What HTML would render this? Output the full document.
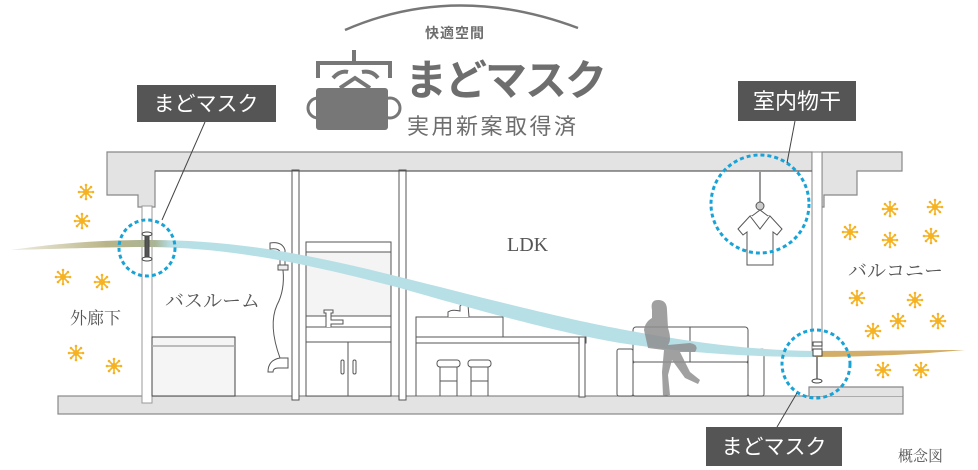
<!DOCTYPE html>
<html><head><meta charset="utf-8"><style>
html,body{margin:0;padding:0;background:#fff;}
svg{display:block;}
.t{font-family:"Liberation Serif","Noto Serif CJK SC",serif;fill:#555;}
.w{font-family:"Liberation Sans","Noto Sans CJK JP",sans-serif;fill:#fff;}
.g{font-family:"Liberation Sans","Noto Sans CJK JP",sans-serif;fill:#6e6e6e;}
</style></head><body>
<svg width="978" height="470" viewBox="0 0 978 470" xmlns="http://www.w3.org/2000/svg">
<defs>
<linearGradient id="flow" x1="10" y1="0" x2="815" y2="0" gradientUnits="userSpaceOnUse">
<stop offset="0" stop-color="#c6c29a" stop-opacity="0.3"/>
<stop offset="0.12" stop-color="#b9b488"/>
<stop offset="0.18" stop-color="#a9b496"/>
<stop offset="0.2" stop-color="#b7dfe6"/>
<stop offset="1" stop-color="#b7dfe6"/>
</linearGradient>
<g id="sp" stroke="#f5b324" stroke-width="1.6" fill="#f5b324">
<line x1="-7" y1="0" x2="7" y2="0"/><line x1="0" y1="-7" x2="0" y2="7"/>
<line x1="-5" y1="-5" x2="5" y2="5"/><line x1="-5" y1="5" x2="5" y2="-5"/>
<circle r="3" stroke="none"/>
<circle cx="7" cy="0" r="1.3" stroke="none"/><circle cx="-7" cy="0" r="1.3" stroke="none"/>
<circle cx="0" cy="7" r="1.3" stroke="none"/><circle cx="0" cy="-7" r="1.3" stroke="none"/>
<circle cx="5" cy="5" r="1.3" stroke="none"/><circle cx="-5" cy="-5" r="1.3" stroke="none"/>
<circle cx="5" cy="-5" r="1.3" stroke="none"/><circle cx="-5" cy="5" r="1.3" stroke="none"/>
</g>
</defs>

<!-- logo -->
<path d="M345,30 Q455,-18 578,28" fill="none" stroke="#777" stroke-width="2.5"/>
<text x="455" y="38" class="g" font-size="14" font-weight="bold" text-anchor="middle" letter-spacing="1">快適空間</text>
<g fill="none" stroke="#777" stroke-width="4">
<path d="M318,78 L318,63 L390,63 L390,78"/>
<line x1="354" y1="50" x2="354" y2="63"/>
<path d="M333,78 Q340,70 348,72"/><path d="M362,72 Q372,70 378,78"/>
<path d="M340,88 L355,78 L370,88"/>
<circle cx="318" cy="108" r="10" stroke-width="3"/>
<circle cx="390" cy="108" r="10" stroke-width="3"/>
</g>
<rect x="316" y="88" width="72" height="42" rx="3" fill="#777"/>
<text x="405" y="95" class="g" font-size="42" font-weight="bold" letter-spacing="-2">まどマスク</text>
<text x="407" y="134" class="g" font-size="22" letter-spacing="2.5">実用新案取得済</text>

<!-- structure -->
<g fill="#e3e3e3" stroke="#888" stroke-width="1.2">
<path d="M107,152 L812,152 L812,171 L155,171 L155,207 L138,207 L138,195 L107,195 Z"/>
<path d="M822,152 L902,152 L902,171 L857,171 L857,195 L824,195 L824,207 L822,207 Z"/>
<rect x="58" y="396" width="845" height="18"/>
<path d="M809,396 L809,387 L903,387 L903,396"/>
</g>
<rect x="142" y="206" width="10" height="197" fill="#fff" stroke="#999" stroke-width="1"/>
<rect x="812" y="152" width="10" height="201" fill="#fff" stroke="#888" stroke-width="1"/>
<line x1="817" y1="353" x2="817" y2="380" stroke="#666" stroke-width="1.5"/>
<g fill="none" stroke="#555" stroke-width="1">
<rect x="292" y="170" width="7" height="230" fill="#fff"/>
<rect x="399" y="170" width="7" height="230" fill="#fff"/>
<line x1="155" y1="171" x2="812" y2="171"/>
</g>

<!-- bath -->
<rect x="152" y="337" width="83" height="59" fill="#f5f5f5" stroke="#444" stroke-width="1"/>
<line x1="152" y1="346" x2="235" y2="346" stroke="#aaa" stroke-width="1.5"/>
<!-- shower -->
<g fill="#fff" stroke="#555" stroke-width="1">
<path d="M270,249 L270,243 Q282,241 285,250 L285,265 L280,265 L280,252 Q279,248 270,249 Z"/>
<rect x="278" y="265" width="10" height="5" fill="#eee"/>
<path d="M283,270 Q285,290 277,305 Q268,325 280,358" fill="none"/>
<path d="M268,372 Q268,360 280,358 L288,358 L288,368 L278,368 Q273,368 273,372 Z"/>
</g>
<!-- vanity -->
<g stroke="#555" stroke-width="1" fill="#fff">
<rect x="306" y="242" width="85" height="154"/>
<rect x="306" y="252" width="85" height="64" fill="#f4f4f4"/>
<line x1="306" y1="327" x2="391" y2="327"/>
<line x1="306" y1="342" x2="391" y2="342"/>
<line x1="348" y1="342" x2="348" y2="396"/>
<rect x="341" y="360" width="3" height="14" rx="1.5"/>
<rect x="353" y="360" width="3" height="14" rx="1.5"/>
<path d="M326,327 L326,313 L324,313 L324,310 L333,310 L333,313 L331,313 L331,320 L343,320 L343,324 L331,324 L331,327" />
</g>
<!-- kitchen -->
<g stroke="#555" stroke-width="1" fill="#fff">
<rect x="416" y="317" width="87" height="20"/>
<rect x="416" y="337" width="170" height="6"/>
<rect x="579" y="337" width="6" height="60"/>
<line x1="416" y1="343" x2="416" y2="396"/>
<path d="M448,317 L448,312 Q452,309 460,311 L460,306 Q463,303 468,305 L469,317" />
<rect x="437" y="360" width="23" height="7" rx="3"/>
<rect x="468" y="360" width="23" height="7" rx="3"/>
<path d="M440,367 L440,396 M457,367 L457,396 M440,381 L457,381"/>
<path d="M471,367 L471,396 M488,367 L488,396 M471,381 L488,381"/>
</g>
<!-- sofa -->
<g stroke="#555" stroke-width="1" fill="#fff">
<rect x="633" y="327" width="115" height="36" rx="3"/>
<line x1="690" y1="327" x2="690" y2="362"/>
<rect x="617" y="349" width="16" height="47" rx="2"/>
<rect x="748" y="349" width="16" height="47" rx="2"/>
<rect x="633" y="362" width="115" height="34" rx="2"/>
</g>

<!-- flow -->
<path d="M10,250 C60,243 100,240 150,240 C230,240 300,252 400,277 C480,297 560,318 620,329 C680,340 740,350 815,351 L815,357 C740,357 680,352 620,343 C560,333 480,311 400,288 C300,262 230,248 150,247 C100,247 60,249 10,250 Z" fill="url(#flow)"/>
<path d="M815,351 C870,351 920,350 965,350 C920,354 870,357 815,357 Z" fill="#d3ae68"/>

<!-- person -->
<g fill="#8f8f8f" opacity="0.85">
<path d="M652,310 Q650,300 658,300 Q667,300 667,310 L668,328 Q672,340 668,345 L690,343 Q700,345 695,352 L680,352 L690,372 L700,380 L698,384 L685,378 L672,360 L668,375 L670,395 L663,396 L662,372 L664,350 L648,348 L644,330 Q645,322 652,318 Z"/>
</g>

<!-- devices -->
<g fill="#fff" stroke="#444" stroke-width="1">
<ellipse cx="147" cy="234" rx="5" ry="2"/>
<rect x="145" y="236" width="4" height="22" fill="#555"/>
<ellipse cx="147" cy="259" rx="5" ry="2"/>
<rect x="813" y="342" width="9" height="4"/>
<rect x="813" y="349" width="9" height="7"/>
<ellipse cx="817" cy="381" rx="5" ry="2"/>
</g>
<!-- hanger -->
<g stroke="#555" stroke-width="1" fill="#fff">
<line x1="760" y1="171" x2="760" y2="203" stroke="#999" stroke-width="2"/>
<circle cx="760" cy="206" r="4" fill="#ccc"/>
<path d="M738,229 L750,216 L770,216 L782,229 L777,235 L773,232 L773,265 L747,265 L747,232 L743,235 Z"/>
<path d="M750,216 L760,229 L770,216 M752,216 L760,210 L768,216"/>
</g>

<!-- circles -->
<g fill="none" stroke="#17a3d8" stroke-width="3" stroke-dasharray="4,3">
<circle cx="147" cy="248" r="28"/>
<circle cx="760" cy="204" r="49"/>
<circle cx="816" cy="364" r="34"/>
</g>

<!-- sparkles -->
<use href="#sp" x="86" y="192"/><use href="#sp" x="82" y="221"/>
<use href="#sp" x="63" y="277"/><use href="#sp" x="102" y="282"/>
<use href="#sp" x="76" y="353"/><use href="#sp" x="114" y="366"/>
<use href="#sp" x="890" y="209"/><use href="#sp" x="935" y="207"/>
<use href="#sp" x="850" y="232"/><use href="#sp" x="890" y="240"/>
<use href="#sp" x="931" y="236"/><use href="#sp" x="857" y="298"/>
<use href="#sp" x="915" y="300"/><use href="#sp" x="898" y="321"/>
<use href="#sp" x="938" y="321"/><use href="#sp" x="873" y="331"/>
<use href="#sp" x="883" y="370"/><use href="#sp" x="921" y="370"/>

<!-- labels -->
<text x="70" y="324" class="t" font-size="17">外廊下</text>
<text x="165" y="307" class="t" font-size="19">バスルーム</text>
<text x="507" y="251" class="t" font-size="20">LDK</text>
<text x="848" y="277" class="t" font-size="19">バルコニー</text>
<text x="898" y="461" class="t" font-size="15">概念図</text>

<g stroke="#444" stroke-width="1">
<line x1="205" y1="122" x2="162" y2="220"/>
<line x1="795" y1="121" x2="787" y2="163"/>
<line x1="797" y1="393" x2="777" y2="427"/>
</g>
<rect x="137" y="85" width="139" height="37" fill="#555"/>
<text x="206" y="111" class="w" font-size="21" text-anchor="middle">まどマスク</text>
<rect x="738" y="81" width="118" height="40" fill="#555"/>
<text x="797" y="109" class="w" font-size="22" text-anchor="middle">室内物干</text>
<rect x="706" y="427" width="136" height="39" fill="#555"/>
<text x="774" y="454" class="w" font-size="21" text-anchor="middle">まどマスク</text>
</svg>
</body></html>
